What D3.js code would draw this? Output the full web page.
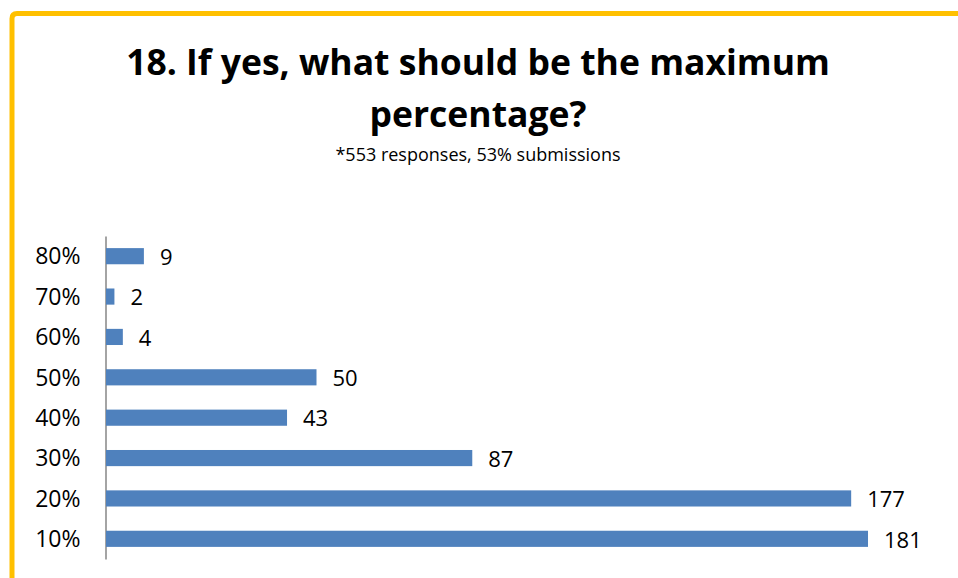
<!DOCTYPE html>
<html>
<head>
<meta charset="utf-8">
<script src="https://cdn.jsdelivr.net/npm/d3@7"></script>
<style>
  html, body { margin: 0; padding: 0; background: #fff; }
  svg { display: block; font-family: "Open Sans", sans-serif; }
</style>
</head>
<body>
<svg id="chart" width="958" height="578"></svg>
<script>
// Answer buckets, listed top to bottom as they appear on the axis
const categories = ["80%", "70%", "60%", "50%", "40%", "30%", "20%", "10%"];
// Number of responses for each bucket
const responses = [9, 2, 4, 50, 43, 87, 177, 181];

const titleLines = ["18. If yes, what should be the maximum", "percentage?"];
const subtitle = "*553 responses, 53% submissions";

const svg = d3.select("#chart");
const W = 958, H = 578;

// Frame: yellow border along the top and left with a rounded corner
const bx = 12, by = 13.5, r = 5;
svg.append("path")
  .attr("d", `M${bx},${H + 10} L${bx},${by + r} Q${bx},${by} ${bx + r},${by} L${W + 10},${by}`)
  .attr("fill", "none")
  .attr("stroke", "#FFC000")
  .attr("stroke-width", 5);

// Title and subtitle
const cx = 478;
svg.append("text")
  .attr("x", cx).attr("y", 75)
  .attr("text-anchor", "middle")
  .attr("font-weight", "bold")
  .attr("font-size", 35.5)
  .attr("fill", "#000")
  .text(titleLines[0]);
svg.append("text")
  .attr("x", cx).attr("y", 127)
  .attr("text-anchor", "middle")
  .attr("font-weight", "bold")
  .attr("font-size", 35.5)
  .attr("fill", "#000")
  .text(titleLines[1]);
svg.append("text")
  .attr("x", cx).attr("y", 161)
  .attr("text-anchor", "middle")
  .attr("font-size", 18)
  .attr("fill", "#000")
  .text(subtitle);

// Scales
const x0 = 106;
const x = d3.scaleLinear().domain([0, 200]).range([x0, 948]);
const y = d3.scaleBand()
  .domain(categories)
  .range([236, 559])
  .paddingInner(0.6)
  .paddingOuter(0.3);

// Category axis
const axis = svg.append("g")
  .attr("transform", `translate(${x0 - 0.5},0)`)
  .call(d3.axisLeft(y).tickSize(0).tickPadding(25));
axis.select(".domain").attr("stroke", "#868686").attr("stroke-width", 1.5);
axis.selectAll(".tick text")
  .attr("font-family", "Open Sans, sans-serif")
  .attr("font-size", 23)
  .attr("fill", "#000")
  .attr("dy", "0.36em");

const data = categories.map((c, i) => ({ cat: c, value: responses[i] }));

// Bars
svg.append("g").selectAll("rect")
  .data(data)
  .join("rect")
  .attr("x", x(0))
  .attr("y", d => y(d.cat))
  .attr("width", d => x(d.value) - x(0))
  .attr("height", y.bandwidth())
  .attr("fill", "#4F81BD");

// Value labels
svg.append("g").selectAll("text")
  .data(data)
  .join("text")
  .attr("x", d => x(d.value) + 16)
  .attr("y", d => y(d.cat) + y.bandwidth() / 2)
  .attr("dy", "0.4em")
  .attr("font-size", 22)
  .attr("fill", "#000")
  .text(d => d.value);
</script>
</body>
</html>
